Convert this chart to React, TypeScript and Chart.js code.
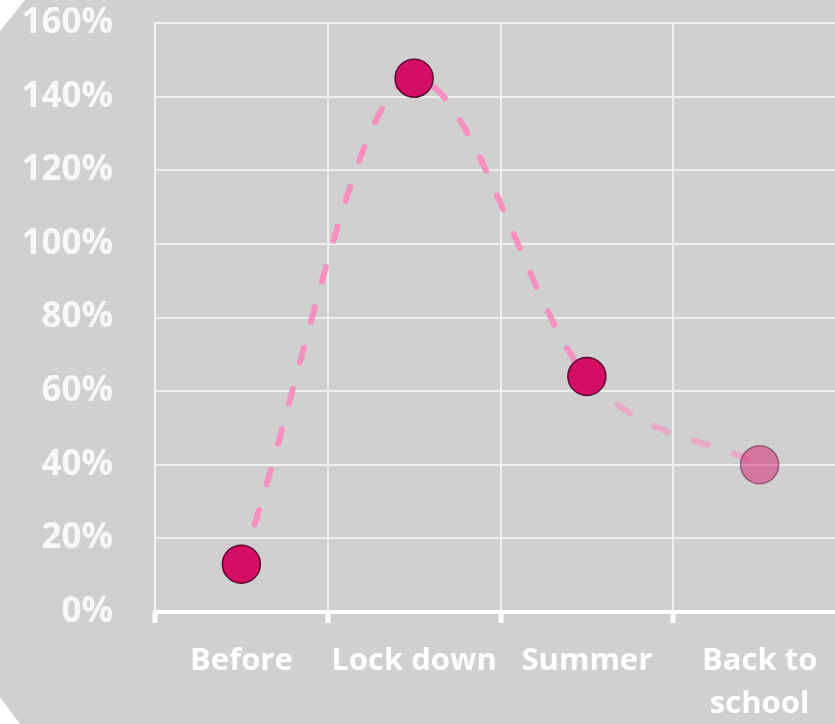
import React, { useEffect, useRef } from "react";
import { Chart, registerables } from "chart.js";

Chart.register(...registerables);

const categories: (string | string[])[] = ["Before", "Lock down", "Summer", ["Back to", "school"]];
const values: number[] = [13, 145, 64, 40];
const yTicks: number[] = [0, 20, 40, 60, 80, 100, 120, 140, 160];

export default function App() {
  const ref = useRef<HTMLCanvasElement | null>(null);

  useEffect(() => {
    if (!ref.current) return;
    const font = "'Open Sans', 'DejaVu Sans', sans-serif";
    const chart = new Chart(ref.current, {
      type: "line",
      data: {
        labels: categories,
        datasets: [
          {
            data: values,
            borderColor: "#f78fbf",
            borderWidth: 6,
            borderDash: [15, 27],
            borderCapStyle: "round",
            cubicInterpolationMode: "monotone",
            fill: false,
            clip: false as any,
            segment: {
              borderColor: (ctx: any) =>
                ctx.p1DataIndex === values.length - 1 ? "rgba(247,143,191,0.6)" : undefined,
            },
            pointRadius: 19,
            pointHoverRadius: 19,
            pointBorderWidth: 1.5,
            pointBackgroundColor: values.map((_, i) =>
              i === values.length - 1 ? "rgba(212,14,100,0.45)" : "#d40e64"
            ),
            pointBorderColor: values.map((_, i) =>
              i === values.length - 1 ? "rgba(92,10,48,0.5)" : "#5c0a30"
            ),
          },
        ],
      },
      options: {
        animation: false,
        responsive: false,
        maintainAspectRatio: false,
        layout: { padding: { top: 23, right: 34, left: 0, bottom: 0 } },
        plugins: { legend: { display: false }, tooltip: { enabled: false } },
        scales: {
          x: {
            offset: true,
            grid: {
              offset: true,
              color: "#f0f0f0",
              lineWidth: 2,
              drawTicks: true,
              tickLength: 11,
              tickWidth: 5,
              tickColor: "#ffffff",
            },
            border: { display: true, color: "#ffffff", width: 4 },
            ticks: {
              color: "#ffffff",
              padding: 16,
              maxRotation: 0,
              autoSkip: false,
              font: { family: font, size: 31, weight: "bold", lineHeight: 1.4 },
            },
            afterFit: (s: any) => {
              s.height = 112;
              s.paddingLeft = 0;
              s.paddingRight = 0;
            },
          },
          y: {
            min: 0,
            max: 160,
            afterBuildTicks: (s: any) => {
              s.ticks = yTicks.map((v) => ({ value: v }));
            },
            grid: { color: "#f0f0f0", lineWidth: 2, drawTicks: false },
            border: { display: true, color: "#f4f4f4", width: 2 },
            ticks: {
              color: "#f8f8f8",
              padding: 42,
              font: { family: font, size: 35, weight: "bold" },
              callback: (v: any) => v + "%",
            },
            afterFit: (s: any) => {
              s.width = 155;
              s.paddingTop = 0;
              s.paddingBottom = 0;
            },
          },
        },
      },
    });
    return () => chart.destroy();
  }, []);

  return (
    <div
      style={{
        position: "fixed",
        left: 0,
        top: 0,
        width: 835,
        height: 724,
        overflow: "hidden",
        background: "#d0d0d0",
        clipPath: "polygon(25px 0, 835px 0, 835px 724px, 20px 724px, 0 697px, 0 31px)",
      }}
    >
      <canvas ref={ref} width={880} height={724} style={{ display: "block", width: 880, height: 724 }} />
    </div>
  );
}
